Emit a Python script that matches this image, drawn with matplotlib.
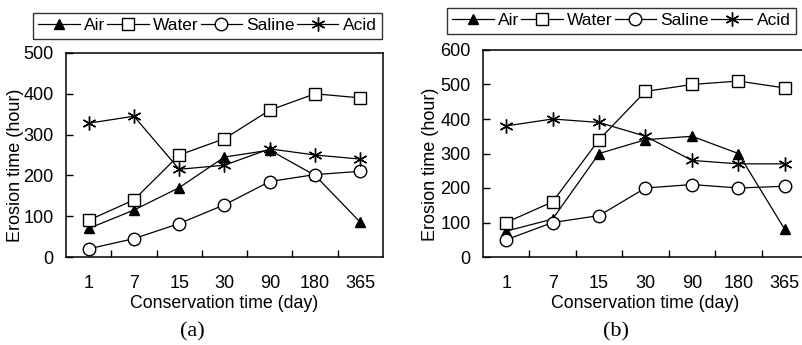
import matplotlib
matplotlib.use("Agg")
import matplotlib.pyplot as plt
import numpy as np

categories = ["1", "7", "15", "30", "90", "180", "365"]
series_names = ["Air", "Water", "Saline", "Acid"]

a_air = [70, 115, 170, 245, 262, 200, 85]
a_water = [90, 140, 250, 290, 360, 400, 390]
a_saline = [20, 45, 82, 128, 185, 202, 210]
a_acid = [328, 345, 215, 225, 265, 250, 240]

b_air = [75, 110, 300, 340, 350, 300, 80]
b_water = [100, 160, 340, 480, 500, 510, 490]
b_saline = [50, 100, 120, 200, 210, 200, 205]
b_acid = [380, 400, 390, 350, 280, 270, 270]

a_yticks = [0, 100, 200, 300, 400, 500]
b_yticks = [0, 100, 200, 300, 400, 500, 600]

plt.rcParams['font.family'] = ['Liberation Sans', 'DejaVu Sans']
plt.rcParams['font.size'] = 12

W, H = 803, 345
fig = plt.figure(figsize=(W / 100, H / 100), dpi=100)

styles = [
    dict(marker='^', markersize=7.5, markerfacecolor='black', markeredgecolor='black'),
    dict(marker='s', markersize=9, markerfacecolor='white', markeredgecolor='black', markeredgewidth=1.0),
    dict(marker='o', markersize=9, markerfacecolor='white', markeredgecolor='black', markeredgewidth=1.0),
    dict(marker=(6, 2, 0), markersize=10, markeredgecolor='black', markeredgewidth=1.0),
]


def make_panel(rect, data, yticks, caption, cap_x, legend_xy, ylabel_x):
    ax = fig.add_axes(rect)
    x = np.arange(len(categories))
    handles = []
    for vals, name, st in zip(data, series_names, styles):
        h, = ax.plot(x, vals, color='black', linewidth=0.9, label=name, **st)
        handles.append(h)
    ax.set_xlim(-0.5, len(categories) - 0.5)
    ax.set_ylim(yticks[0], yticks[-1])
    ax.set_yticks(yticks)
    ax.set_xticks(np.arange(len(categories) - 1) + 0.5)
    ax.set_xticklabels([])
    ax.set_xticks(x, minor=True)
    ax.set_xticklabels(categories, minor=True)
    ax.tick_params(axis='x', which='major', direction='in', length=5, width=1)
    ax.tick_params(axis='x', which='minor', length=0, pad=13, labelsize=13)
    ax.tick_params(axis='y', direction='in', length=5, width=1, pad=9, labelsize=13)
    for s in ax.spines.values():
        s.set_linewidth(1.1)
    ax.set_xlabel("Conservation time (day)", fontsize=12.8, labelpad=2)
    ax.set_ylabel("Erosion time (hour)", fontsize=13, va='center')
    ax.yaxis.set_label_coords((ylabel_x - rect[0] * W) / (rect[2] * W), 0.45)
    fig.text(cap_x / W, 1 - 332 / H, caption, ha='center', va='center',
             fontsize=16, family=['Liberation Serif', 'DejaVu Serif'])
    leg = fig.legend(handles=handles, loc='upper left',
                     bbox_to_anchor=(legend_xy[0] / W, 1 - legend_xy[1] / H),
                     ncol=4, frameon=True, fancybox=False, edgecolor='black',
                     handlelength=2.4, handletextpad=0.25, columnspacing=0.1,
                     borderaxespad=0, borderpad=0.3, fontsize=12.5)
    leg.get_frame().set_linewidth(1.0)
    return ax


make_panel([66 / W, 1 - 257 / H, (383 - 66) / W, (257 - 53) / H],
           [a_air, a_water, a_saline, a_acid], a_yticks, "(a)", 192, (33, 13), 16)
make_panel([483 / W, 1 - 257 / H, (808 - 483) / W, (257 - 50) / H],
           [b_air, b_water, b_saline, b_acid], b_yticks, "(b)", 616, (447, 8), 431)

fig.savefig("out.png", dpi=100)
